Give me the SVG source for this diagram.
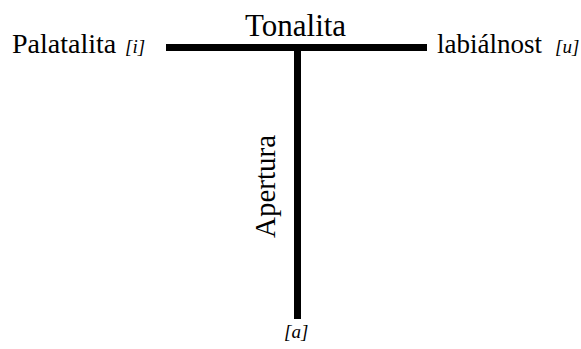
<svg xmlns="http://www.w3.org/2000/svg" width="581" height="349" viewBox="0 0 581 349">
<style>
.lbl{font-family:"Liberation Serif","Times New Roman",serif;fill:#000}
.ph{font-family:"Liberation Serif","Times New Roman",serif;font-style:italic;font-size:19px;fill:#000}
.bar{stroke:#000;stroke-width:7;fill:none}
</style>
<rect width="581" height="349" fill="#fff"/>
<g id="connectors">
<line class="bar" x1="166" y1="47.5" x2="427" y2="47.5"/>
<line class="bar" x1="297.5" y1="47.5" x2="297.5" y2="319"/>
</g>
<g id="palatalita"><text class="lbl" x="12" y="53" font-size="28">Palatalita</text><text class="ph" x="125" y="53">[i]</text></g>
<g id="tonalita"><text class="lbl" x="245" y="36" font-size="31">Tonalita</text></g>
<g id="labialnost"><text class="lbl" x="437" y="53" font-size="27">labiálnost</text><text class="ph" x="555" y="53">[u]</text></g>
<g id="apertura"><text class="lbl" transform="translate(275,238) rotate(-90)" font-size="29">Apertura</text></g>
<g id="a"><text class="ph" x="284" y="338">[a]</text></g>
</svg>
